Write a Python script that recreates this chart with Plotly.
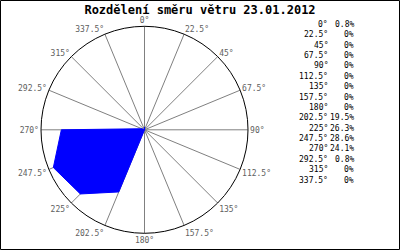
import plotly.graph_objects as go

directions = [0, 22.5, 45, 67.5, 90, 112.5, 135, 157.5, 180, 202.5, 225, 247.5, 270, 292.5, 315, 337.5]
percents = [0.8, 0, 0, 0, 0, 0, 0, 0, 0, 19.5, 26.3, 28.6, 24.1, 0.8, 0, 0]
title_text = "Rozdělení směru větru 23.01.2012"


def fmt(v):
    return f"{v:g}"


dir_labels = [fmt(d) + "°" for d in directions]
pct_labels = [fmt(p) + "%" for p in percents]

W, H = 400, 250
cx, cy, R = 144.5, 129.8, 103.5

fig = go.Figure()
fig.add_trace(go.Scatterpolar(
    r=percents + [percents[0]],
    theta=directions + [directions[0]],
    mode="lines",
    fill="toself",
    fillcolor="#0000ff",
    line=dict(color="#0000ff", width=1),
    hoverinfo="skip",
    showlegend=False,
))

mono = "DejaVu Sans Mono"

annotations = []
row0, step = 24.5, 10.37
for i, (dl, pl) in enumerate(zip(dir_labels, pct_labels)):
    yy = 1 - (row0 + i * step) / H
    annotations.append(dict(x=330 / W, y=yy, xref="paper", yref="paper", text=dl,
                            showarrow=False, xanchor="right", yanchor="middle",
                            font=dict(family=mono, size=8, color="black")))
    annotations.append(dict(x=356 / W, y=yy, xref="paper", yref="paper", text=pl,
                            showarrow=False, xanchor="right", yanchor="middle",
                            font=dict(family=mono, size=8, color="black")))

fig.update_layout(
    width=W, height=H,
    margin=dict(l=0, r=0, t=0, b=0),
    paper_bgcolor="white",
    title=dict(text=title_text, x=0.5, xanchor="center", y=1 - 9.5 / H, yanchor="middle",
               font=dict(family=mono, size=12, color="black", weight="bold")),
    polar=dict(
        domain=dict(x=[(cx - R) / W, (cx + R) / W], y=[(H - cy - R) / H, (H - cy + R) / H]),
        bgcolor="white",
        radialaxis=dict(range=[0, 30], visible=True, showgrid=False, showticklabels=False,
                        showline=False, ticks=""),
        angularaxis=dict(direction="clockwise", rotation=90,
                         tickmode="array", tickvals=directions, ticktext=dir_labels,
                         ticks="", showline=True, linecolor="black", linewidth=1,
                         showgrid=True, gridcolor="#808080", gridwidth=1,
                         tickfont=dict(family=mono, size=8, color="#606060")),
    ),
    annotations=annotations,
    shapes=[dict(type="rect", xref="paper", yref="paper",
                 x0=0.5 / W, x1=1 - 0.5 / W, y0=0.5 / H, y1=1 - 0.5 / H,
                 line=dict(color="black", width=1))],
)

fig.write_html("out.html")
